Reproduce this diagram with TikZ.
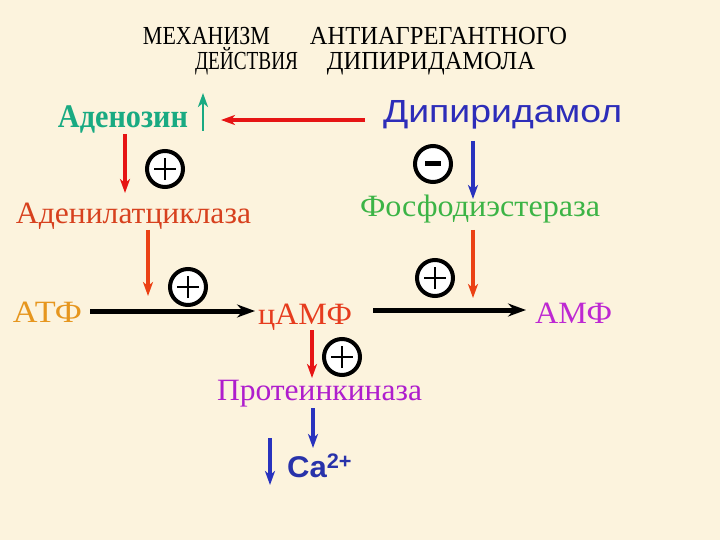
\documentclass[tikz,border=0pt]{standalone}
\usepackage{fontspec}
\setmainfont{Liberation Serif}
\setsansfont{Liberation Sans}
\usetikzlibrary{arrows.meta}
\definecolor{bg}{RGB}{252,243,221}
\definecolor{adencol}{RGB}{25,170,130}
\definecolor{dipcol}{RGB}{45,45,185}
\definecolor{acyccol}{RGB}{215,65,30}
\definecolor{pdecol}{RGB}{60,180,70}
\definecolor{atfcol}{RGB}{230,150,30}
\definecolor{campcol}{RGB}{230,60,30}
\definecolor{amfcol}{RGB}{190,40,210}
\definecolor{pkcol}{RGB}{175,30,205}
\definecolor{cacol}{RGB}{40,50,170}
\definecolor{redarr}{RGB}{230,20,20}
\definecolor{orarr}{RGB}{235,65,20}
\definecolor{bluearr}{RGB}{40,50,190}
\newcommand{\wfit}[2]{\resizebox{#1}{\height}{#2}}
\tikzset{lbl/.style={anchor=base,inner sep=0pt,font=\fontsize{31bp}{34bp}\selectfont},
 ttl/.style={lbl,font=\fontsize{26bp}{28bp}\selectfont},
 sign/.style={circle,draw=black,line width=4bp,fill=white,minimum size=36bp,inner sep=0pt},
 plussign/.style={sign,path picture={\draw[line width=1.8bp] ([xshift=-11bp]path picture bounding box.center)--([xshift=11bp]path picture bounding box.center) ([yshift=-11bp]path picture bounding box.center)--([yshift=11bp]path picture bounding box.center);}},
 minussign/.style={sign,path picture={\draw[line width=5bp] ([xshift=-8bp]path picture bounding box.center)--([xshift=8bp]path picture bounding box.center);}},
 arr/.style={-{Stealth[length=14bp,width=10bp,inset=4bp]},line width=3.2bp},
 react/.style={-{Stealth[length=18bp,width=13bp,inset=6bp]},line width=5bp,black}}
\begin{document}
\begin{tikzpicture}[x=1bp,y=-1bp]
\fill[bg] (0,0) rectangle (720,540);
\useasboundingbox (0,0) rectangle (720,540);
% title
\node[ttl] (t1) at (206.5,45) {\wfit{127bp}{МЕХАНИЗМ}};
\node[ttl] (t2) at (438.5,45) {\wfit{257bp}{АНТИАГРЕГАНТНОГО}};
\node[ttl] (t3) at (246.5,70) {\wfit{103bp}{ДЕЙСТВИЯ}};
\node[ttl] (t4) at (431,70) {\wfit{208bp}{ДИПИРИДАМОЛА}};
% substances
\node[lbl,font=\fontsize{33bp}{34bp}\selectfont\bfseries,text=adencol] (aden) at (123,128) {\wfit{130bp}{Аденозин}};
\node[lbl,font=\fontsize{32bp}{34bp}\selectfont\sffamily,text=dipcol] (dip) at (502.5,123) {\wfit{239bp}{Дипиридамол}};
\node[lbl,text=acyccol] (acyc) at (133.5,224) {\wfit{235bp}{Аденилатциклаза}};
\node[lbl,text=pdecol] (pde) at (480,217) {\wfit{240bp}{Фосфодиэстераза}};
\node[lbl,text=atfcol] (atf) at (47.5,322) {\wfit{69bp}{АТФ}};
\node[lbl,text=campcol] (camp) at (305,324) {\wfit{94bp}{цАМФ}};
\node[lbl,text=amfcol] (amf) at (573.5,323) {\wfit{77bp}{АМФ}};
\node[lbl,text=pkcol] (pk) at (319.5,400) {\wfit{205bp}{Протеинкиназа}};
\node[lbl,anchor=base west,font=\fontsize{30bp}{32bp}\selectfont\sffamily\bfseries,text=cacol] (ca) at (287,477) {\wfit{65bp}{Ca\textsuperscript{2+}}};
% signs
\node[plussign] (s1) at (165,169) {};\node[minussign] (s2) at (433,164) {};
\node[plussign] (s3) at (188,287) {};\node[plussign] (s4) at (435,278) {};
\node[plussign] (s5) at (342,357) {};
% arrow ends
\coordinate (up0) at (203,131);\coordinate (up1) at (203,93);
\coordinate (dl0) at (365,120);\coordinate (dl1) at (221,120);
\coordinate (ad0) at (125,134);\coordinate (ad1) at (125,193);
\coordinate (bd0) at (473,141);\coordinate (bd1) at (473,199);
\coordinate (ac0) at (148,230);\coordinate (ac1) at (148,296);
\coordinate (pd0) at (473,230);\coordinate (pd1) at (473,298);
\coordinate (r10) at (90,311);\coordinate (r11) at (255,311);
\coordinate (r20) at (373,310);\coordinate (r21) at (526,310);
\coordinate (cp0) at (312,330);\coordinate (cp1) at (312,378);
\coordinate (pk0) at (313,408);\coordinate (pk1) at (313,448);
\coordinate (ca0) at (270,438);\coordinate (ca1) at (270,485);
\draw[arr,adencol,line width=2.8bp] (up0)--(up1);
\draw[arr,redarr] (dl0)--(dl1);\draw[arr,redarr] (ad0)--(ad1);
\draw[arr,bluearr] (bd0)--(bd1);
\draw[arr,orarr] (ac0)--(ac1);\draw[arr,orarr] (pd0)--(pd1);
\draw[react] (r10)--(r11);\draw[react] (r20)--(r21);
\draw[arr,redarr] (cp0)--(cp1);
\foreach \a/\b in {pk0/pk1,ca0/ca1}{\draw[arr,bluearr] (\a)--(\b);}
\end{tikzpicture}
\end{document}
